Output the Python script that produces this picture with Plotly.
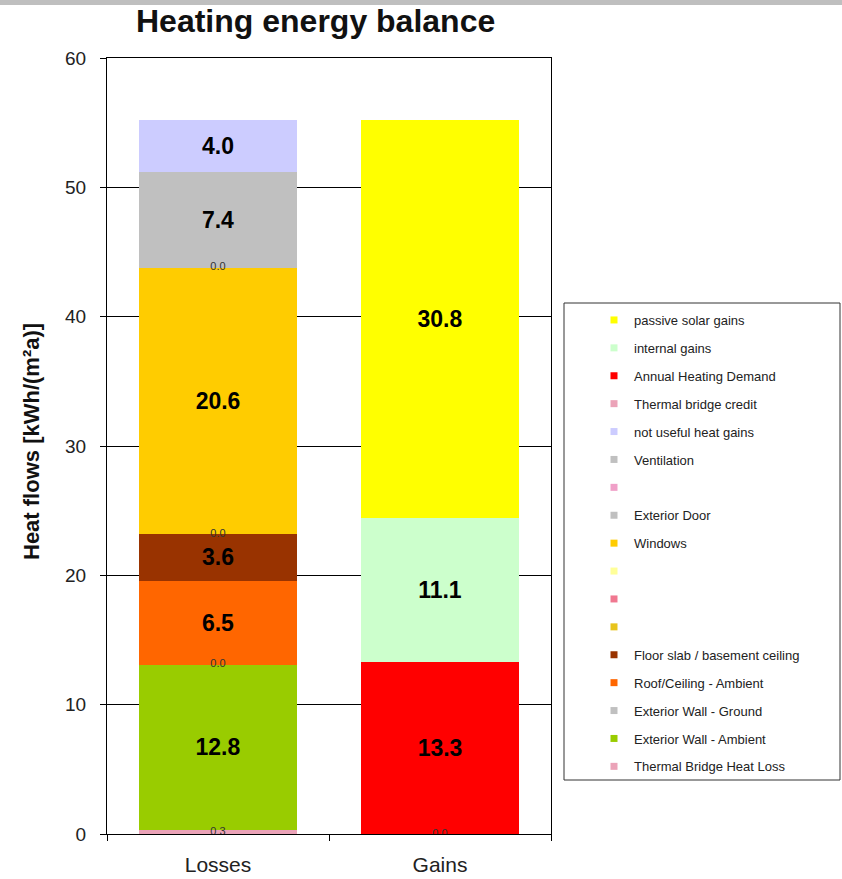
import plotly.graph_objects as go

# Categories on the x axis
categories = ["Losses", "Gains"]

# Stack components, bottom to top
series_names = [
    "Thermal Bridge Heat Loss",
    "Exterior Wall - Ambient",
    "Exterior Wall - Ground",
    "Roof/Ceiling - Ambient",
    "Floor slab / basement ceiling",
    " ",
    " ",
    " ",
    "Windows",
    "Exterior Door",
    " ",
    "Ventilation",
    "not useful heat gains",
    "Thermal bridge credit",
    "Annual Heating Demand",
    "internal gains",
    "passive solar gains",
]

series_colors = [
    "#EBA3B8", "#99CC00", "#C0C0C0", "#FF6600", "#993300",
    "#E8C41C", "#F07890", "#FFFF99", "#FFCC00", "#C0C0C0",
    "#F0A0C8", "#C0C0C0", "#CCCCFF", "#EBA3B8", "#FF0000",
    "#CCFFCC", "#FFFF00",
]

# Heat flows in kWh/(m²a); None = not part of that column
loss_values = [0.3, 12.8, 0.0, 6.5, 3.6, 0.0, None, None, 20.6, 0.0,
               None, 7.4, 4.0, None, None, None, None]
gain_values = [None, None, None, None, None, None, None, None, None, None,
               None, None, None, 0.0, 13.3, 11.1, 30.8]

FONT = "Arial, Liberation Sans, sans-serif"

W, H = 842, 879
L, R, T, B = 107, 551, 58, 834   # plot area in pixels


def px_x(x):
    return (x - L) / (R - L)


def px_y(y):
    return (B - y) / (B - T)


fig = go.Figure()

n = len(series_names)
bases = [0.0, 0.0]
small_x, small_y, small_t = [], [], []
for k, (name, color, lv, gv) in enumerate(zip(series_names, series_colors,
                                              loss_values, gain_values)):
    vals = [lv, gv]
    big_text = []
    for i, v in enumerate(vals):
        if v is None:
            big_text.append("")
            continue
        if v >= 1:
            big_text.append(f"{v:.1f}")
        else:
            big_text.append("")
            small_x.append(categories[i])
            small_y.append(bases[i] + v / 2)
            small_t.append(f"{v:.1f}")
        bases[i] += v
    group = f"g{k}"
    fig.add_trace(go.Bar(
        x=categories, y=vals, name=name, legendgroup=group,
        marker=dict(color=color, line=dict(width=0)),
        text=big_text, textposition="inside", insidetextanchor="middle",
        textangle=0, constraintext="none",
        textfont=dict(family=FONT, size=23, color="#000000", weight="bold"),
        showlegend=False, hoverinfo="skip",
    ))
    # legend entry with a small square swatch; top of stack listed first
    fig.add_trace(go.Scatter(
        x=[None], y=[None], mode="markers", name=name, legendgroup=group,
        legendrank=n - k,
        marker=dict(symbol="square", size=7, color=color),
        showlegend=True,
    ))

# small value labels for thin / empty segments
fig.add_trace(go.Scatter(
    x=small_x, y=small_y, text=small_t, mode="text",
    textfont=dict(family=FONT, size=11, color="#333333"),
    showlegend=False, hoverinfo="skip",
))

fig.update_layout(
    width=W, height=H,
    margin=dict(l=L, r=W - R, t=T, b=H - B, autoexpand=False),
    paper_bgcolor="white", plot_bgcolor="white",
    barmode="stack", bargap=0.29,
    font=dict(family=FONT, color="#222222"),
    showlegend=True,
    legend=dict(
        x=px_x(594), y=px_y(305), xanchor="left", yanchor="top",
        traceorder="grouped", tracegroupgap=8,
        font=dict(family=FONT, size=13, color="#222222"),
        bgcolor="rgba(0,0,0,0)", borderwidth=0, itemwidth=30,
    ),
    xaxis=dict(
        automargin=False,
        showline=True, linecolor="#000000", linewidth=1, mirror=True,
        ticks="outside", tickson="boundaries", ticklen=6, tickcolor="#000000",
        tickfont=dict(family=FONT, size=21, color="#222222"),
        ticklabelstandoff=12, showgrid=False,
    ),
    yaxis=dict(
        automargin=False,
        range=[0, 60], dtick=10, tick0=0,
        showline=True, linecolor="#000000", linewidth=1, mirror=True,
        ticks="outside", ticklen=6, tickcolor="#000000",
        tickfont=dict(family=FONT, size=19, color="#222222"),
        ticklabelstandoff=10,
        showgrid=True, gridcolor="#000000", gridwidth=1, zeroline=False,
    ),
    shapes=[
        # strip along the top edge
        dict(type="rect", xref="paper", yref="paper",
             x0=px_x(0), x1=px_x(W), y0=px_y(5), y1=px_y(0),
             fillcolor="#BFBFBF", line=dict(width=0), layer="above"),
        # legend frame
        dict(type="rect", xref="paper", yref="paper",
             x0=px_x(564), x1=px_x(840), y0=px_y(780), y1=px_y(303),
             fillcolor="rgba(0,0,0,0)", line=dict(color="#333333", width=1)),
    ],
    annotations=[
        dict(text="Heating energy balance", xref="paper", yref="paper",
             x=px_x(315), y=px_y(21), xanchor="center", yanchor="middle",
             showarrow=False,
             font=dict(family=FONT, size=32, color="#111111", weight="bold")),
        dict(text="Heat flows [kWh/(m²a)]", xref="paper", yref="paper",
             x=px_x(31), y=px_y(442), xanchor="center", yanchor="middle",
             textangle=-90, showarrow=False,
             font=dict(family=FONT, size=22, color="#111111", weight="bold")),
    ],
)

fig.write_html("out.html")
